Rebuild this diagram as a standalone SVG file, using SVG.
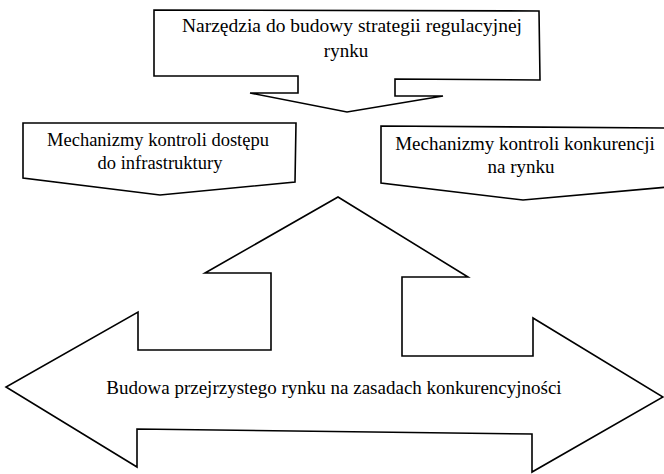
<svg xmlns="http://www.w3.org/2000/svg" width="664" height="474" viewBox="0 0 664 474">
  <style>
    .shape { fill: #ffffff; stroke: #000000; stroke-width: 1.6; stroke-linejoin: miter; }
    .label { font-family: "Liberation Serif", "Times New Roman", serif; fill: #000000; text-anchor: middle; }
  </style>
  <rect x="0" y="0" width="664" height="474" fill="#ffffff"/>
  <g id="node-top">
    <polygon class="shape" points="154,10 539,11 540,80 395,79 395,96 443,96 347,112 250,93 298,93 298,76 154,76"/>
    <text class="label" x="352" y="32" font-size="19.5">Narzędzia do budowy strategii regulacyjnej</text>
    <text class="label" x="346" y="57" font-size="19">rynku</text>
  </g>
  <g id="node-left">
    <polygon class="shape" points="23,123 296,123 295,182 160,195 23,178"/>
    <text class="label" x="158" y="146" font-size="18.5">Mechanizmy kontroli dostępu</text>
    <text class="label" x="160" y="169" font-size="18.5">do infrastruktury</text>
  </g>
  <g id="node-right">
    <polygon class="shape" points="381,126 668,128 668,187 523,200 381,183"/>
    <text class="label" x="525" y="150" font-size="19">Mechanizmy kontroli konkurencji</text>
    <text class="label" x="521" y="173" font-size="19">na rynku</text>
  </g>
  <g id="node-bottom">
    <polygon class="shape" points="138,312 138,350 271,350 271,273 205,273 338,197 468,277 402,277 402,356 533,356 533,318 663,397 532,472 532,434 137,429 137,467 6,387"/>
    <text class="label" x="334" y="394" font-size="19">Budowa przejrzystego rynku na zasadach konkurencyjności</text>
  </g>
  <g id="connectors"></g>
</svg>
